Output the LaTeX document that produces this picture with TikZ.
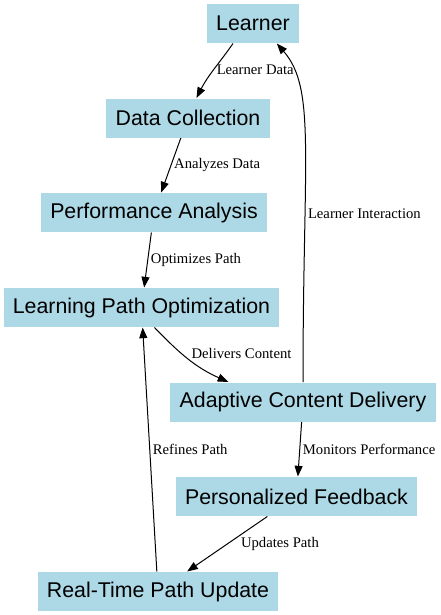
\documentclass[tikz,border=0pt]{standalone}
\usepackage{fontspec}
\setmainfont{Liberation Serif}
\setsansfont{Liberation Sans}
\usepackage{xcolor}
\usetikzlibrary{arrows.meta}
\definecolor{boxblue}{HTML}{ADD8E6}

\begin{document}
\begin{tikzpicture}[x=0.75pt,y=-0.75pt,line width=0.75pt,
   >={Triangle[length=8pt,width=6pt]},
   box/.style={rectangle,fill=boxblue,font=\sffamily\fontsize{16}{19}\selectfont,
     minimum height=29.25pt,inner xsep=6.9pt,inner ysep=0pt},
   lbl/.style={font=\fontsize{11}{13}\selectfont,inner sep=2pt}]
   \useasboundingbox (0,0) rectangle (440,615);

   \node[box] (learner) at (253,23.5) {Learner};
   \node[box] (collect) at (188,118) {Data Collection};
   \node[box] (analysis) at (154,212.5) {Performance Analysis};
   \node[box] (optim) at (141.5,307.5) {Learning Path Optimization};
   \node[box] (delivery) at (303,402) {Adaptive Content Delivery};
   \node[box] (feedback) at (296.5,496.5) {Personalized Feedback};
   \node[box] (update) at (158,591.5) {Real-Time Path Update};

   \path[->]
   (learner.-135) edge[out=-125,in=63] node[lbl,right] {Learner Data} (collect.67)
   (collect) edge node[lbl,right] {Analyzes Data} (analysis)
   (analysis) edge node[lbl,right] {Optimizes Path} (optim)
   (optim.-57) edge[out=-46,in=156] node[lbl,right,yshift=3.75pt] {Delivers Content} (delivery.165)
   (delivery.north) edge[out=90,in=-49,out distance=170pt,in distance=45pt]
      node[lbl,right,pos=0.31] {Learner Interaction} (learner.-40)
   (delivery) edge node[lbl,right] {Monitors Performance} (feedback)
   (feedback) edge node[lbl,right,xshift=8pt] {Updates Path} (update)
   (update) edge node[lbl,right] {Refines Path} (optim);
\end{tikzpicture}
\end{document}
